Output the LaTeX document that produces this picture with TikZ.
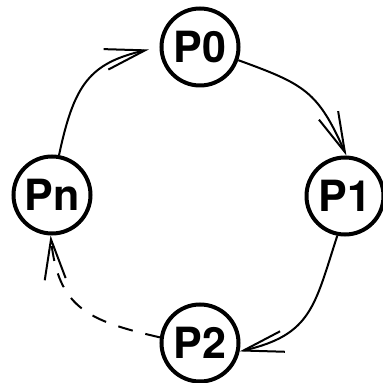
\documentclass[tikz,border=0pt]{standalone}
\usepackage{fontspec}
\setmainfont{TeX Gyre Heros}
\usetikzlibrary{arrows.meta}
\begin{document}
\begin{tikzpicture}[x=1pt,y=1pt,
  proc/.style={circle,draw,line width=4pt,minimum size=77pt,inner sep=0pt,font=\fontsize{43}{43}\selectfont\bfseries},
  link/.style={line width=2pt,looseness=1.25,-{Straight Barb[length=40pt,width=21pt,line width=2pt]}}]
\useasboundingbox (0,0) rectangle (383,383);
\node[proc] (P0) at (200,336) {P0};
\node[proc] (P1) at (345,187) {P1};
\node[proc] (Pn) at (52,188) {Pn};
\node[proc] (P2) at (200,40) {P2};
\draw[link,shorten >=11pt] (Pn.80) to[out=78,in=193] (P0.west);
\draw[link] (P0.-19) to[out=-20,in=114] (P1.88);
\draw[link] (P1.259) to[out=252,in=13] (P2.-12);
\draw[link,dash pattern=on 15pt off 13pt] (P2.172) to[out=167,in=276] (Pn.268);
\end{tikzpicture}
\end{document}
